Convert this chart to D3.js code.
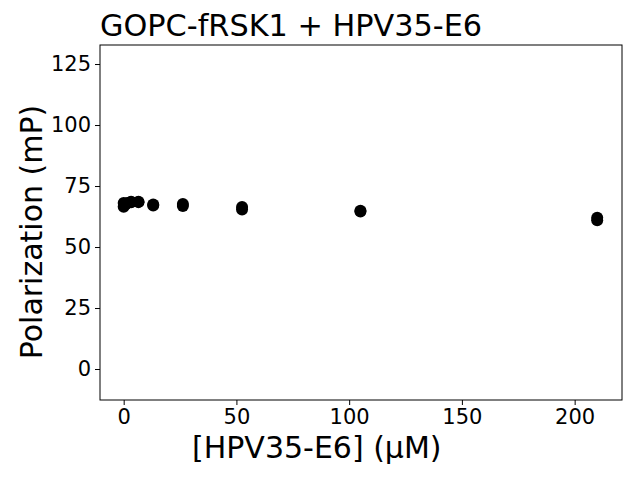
<!DOCTYPE html>
<html><head><meta charset="utf-8">
<script src="https://cdn.jsdelivr.net/npm/d3@7"></script>
<style>body{margin:0;background:#fff}text{font-family:"DejaVu Sans",sans-serif}</style>
</head><body><svg id="c" width="640" height="480"></svg>
<script>
const concentrations = [0, 0, 0.82, 1.64, 3.28, 3.28, 6.56, 6.56, 13.1, 13.1, 26.25, 26.25, 52.5, 52.5, 105, 105, 210, 210];
const polarization   = [68, 66.5, 67.5, 68, 68.6, 68.3, 68.6, 68.4, 67.4, 67.0, 67.6, 66.8, 66.4, 65.4, 64.9, 64.6, 62.0, 61.0];
const xTicks = [0, 50, 100, 150, 200];
const yTicks = [0, 25, 50, 75, 100, 125];
const title = "GOPC-fRSK1 + HPV35-E6";
const xLabel = "[HPV35-E6] (μM)";
const yLabel = "Polarization (mP)";

const L = 100, R = 622, T = 45, B = 400;
const svg = d3.select("#c");
const x = d3.scaleLinear().domain([-10.5, 221]).range([L, R]);
const y = d3.scaleLinear().domain([-12.7, 132.8]).range([B, T]);

const data = concentrations.map((c, i) => ({c, p: polarization[i]}));
svg.append("g").selectAll("circle").data(data).join("circle")
  .attr("cx", d => x(d.c)).attr("cy", d => y(d.p)).attr("r", 6).attr("fill", "#000");

const xa = svg.append("g").attr("transform", `translate(0,${B})`)
  .call(d3.axisBottom(x).tickValues(xTicks).tickSize(5).tickPadding(4).tickFormat(d3.format("d")));
const ya = svg.append("g").attr("transform", `translate(${L},0)`)
  .call(d3.axisLeft(y).tickValues(yTicks).tickSize(5).tickPadding(4).tickFormat(d3.format("d")));
[xa, ya].forEach(a => {
  a.select(".domain").remove();
  a.selectAll("line").attr("stroke", "#000").attr("stroke-width", 1);
  a.selectAll("text").attr("font-size", 21).attr("fill", "#000").style("font-family", '"DejaVu Sans",sans-serif');
});
svg.append("rect").attr("x", L).attr("y", T).attr("width", R - L).attr("height", B - T)
  .attr("fill", "none").attr("stroke", "#000").attr("stroke-width", 1);

svg.append("text").attr("x", L).attr("y", 36).attr("font-size", 30.3).text(title);
svg.append("text").attr("x", 192).attr("y", 458).attr("text-anchor", "start").attr("font-size", 30).text(xLabel);
svg.append("text").attr("transform", `translate(42,232) rotate(-90)`).attr("text-anchor", "middle").attr("font-size", 30).text(yLabel);
</script></body></html>
